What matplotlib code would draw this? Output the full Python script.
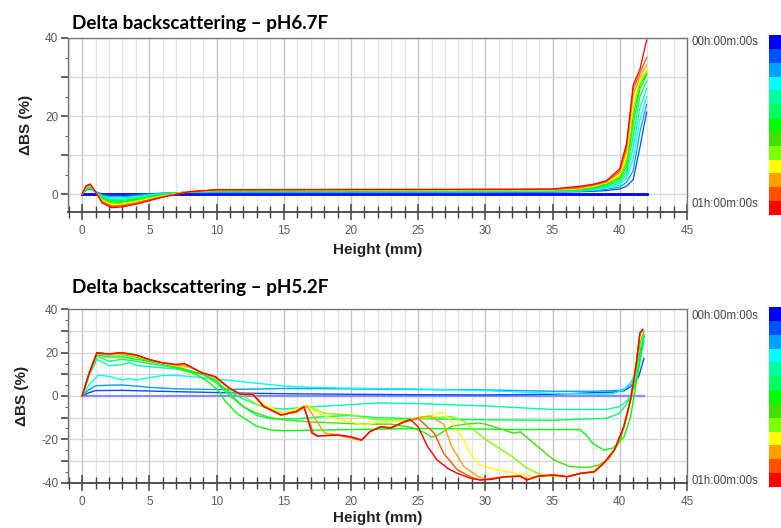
import numpy as np
import matplotlib
matplotlib.use("Agg")
import matplotlib.pyplot as plt
from matplotlib.ticker import MultipleLocator, FuncFormatter
from matplotlib.colors import ListedColormap

# colour for each scan, 00h:00m:00s -> 01h:00m:00s
scan_colors = ['#0000ff', '#0050ff', '#00a0ff', '#00ffff', '#00ffa0', '#00ff60', '#00ff00',
               '#40e000', '#80ff00', '#ffff00', '#ffa000', '#ff5000', '#ff0000']

time_start = '00h:00m:00s'
time_end = '01h:00m:00s'
title_top = 'Delta backscattering – pH6.7F'
title_bot = 'Delta backscattering – pH5.2F'

# ---- pH6.7F ----
top_x = [0, 0.3, 0.6, 1.0, 1.5, 2.2, 3.0, 4.0, 5.0, 6.0, 7.0, 8.0, 10, 20, 30, 35, 37, 38, 39, 40, 40.5, 41, 41.5, 42]
top_first_x = [0, 42]
top_first_y = [0, 0]
top_1 = [0, 1.0, 1.3, 0.6, 0.0, -0.3, -0.3, -0.1, 0.1, 0.2, 0.3, 0.4, 0.4, 0.4, 0.4, 0.5, 0.6, 0.7, 0.9, 1.3, 2.0, 3.7, 12, 21]
top_2 = [0, 1.1, 1.5, 0.6, -0.3, -0.7, -0.7, -0.4, 0.0, 0.2, 0.3, 0.5, 0.5, 0.5, 0.5, 0.6, 0.7, 0.9, 1.2, 1.8, 3.0, 6.0, 16, 23]
top_3 = [0, 1.2, 1.6, 0.6, -0.5, -1.1, -1.0, -0.7, -0.2, 0.1, 0.3, 0.5, 0.6, 0.6, 0.6, 0.7, 0.8, 1.0, 1.5, 2.3, 4.0, 9.0, 19, 25]
top_4 = [0, 1.3, 1.7, 0.6, -0.7, -1.4, -1.3, -0.9, -0.4, 0.0, 0.3, 0.6, 0.7, 0.7, 0.7, 0.8, 0.9, 1.2, 1.8, 2.8, 5.0, 12, 22, 27]
top_5 = [0, 1.4, 1.8, 0.6, -0.9, -1.7, -1.6, -1.2, -0.6, -0.1, 0.3, 0.6, 0.8, 0.8, 0.8, 0.9, 1.0, 1.4, 2.1, 3.3, 6.0, 15, 25, 29]
top_6 = [0, 1.5, 1.9, 0.6, -1.1, -2.0, -1.9, -1.4, -0.8, -0.2, 0.2, 0.6, 0.8, 0.9, 0.9, 1.0, 1.1, 1.6, 2.4, 3.8, 7.0, 18, 27, 30.5]
top_7 = [0, 1.6, 2.0, 0.6, -1.3, -2.3, -2.1, -1.6, -0.9, -0.3, 0.2, 0.6, 0.9, 0.9, 1.0, 1.0, 1.2, 1.8, 2.6, 4.2, 8.0, 20, 28, 31]
top_8 = [0, 1.7, 2.1, 0.6, -1.5, -2.5, -2.4, -1.8, -1.0, -0.4, 0.1, 0.6, 0.9, 1.0, 1.0, 1.1, 1.3, 1.9, 2.8, 4.6, 9.0, 22, 29, 31.5]
top_9 = [0, 1.8, 2.2, 0.6, -1.7, -2.8, -2.6, -2.0, -1.2, -0.5, 0.1, 0.6, 1.0, 1.0, 1.1, 1.1, 1.4, 2.0, 3.0, 5.0, 10, 24, 29.5, 32]
top_10 = [0, 1.9, 2.3, 0.6, -1.9, -3.0, -2.8, -2.2, -1.4, -0.6, 0.0, 0.6, 1.0, 1.1, 1.1, 1.2, 1.5, 2.1, 3.1, 5.5, 11, 25.5, 30, 33]
top_11 = [0, 2.0, 2.4, 0.6, -2.1, -3.2, -3.0, -2.4, -1.5, -0.7, 0.0, 0.6, 1.1, 1.1, 1.2, 1.2, 1.7, 2.3, 3.2, 6.0, 12, 27, 31, 35]
top_12 = [0, 2.1, 2.6, 0.6, -2.3, -3.5, -3.3, -2.6, -1.7, -0.8, -0.1, 0.6, 1.1, 1.2, 1.2, 1.3, 2.0, 2.5, 3.4, 6.5, 13, 28, 32, 39.5]

# ---- pH5.2F ----
bot_0x = [0, 41.8]
bot_0y = [0, 0]
bot_1x = [0, 0.5, 1, 3, 5, 7, 10, 13, 16, 20, 25, 30, 35, 38, 39.5, 40.3, 40.8, 41.4, 41.8]
bot_1y = [0, 1.5, 2.5, 2.6, 2.3, 2.0, 1.6, 1.2, 1.0, 0.8, 0.6, 0.5, 0.8, 1.5, 1.8, 2.4, 4.3, 8.9, 17.4]
bot_2x = [0, 0.5, 1, 2, 3, 4, 5, 7, 10, 13, 15, 20, 25, 30, 35, 38, 40, 40.5, 41, 41.3, 41.6]
bot_2y = [0, 3, 4.7, 5.0, 5.1, 4.6, 4.0, 3.3, 3.0, 3.2, 3.5, 3.3, 3.0, 2.8, 2.2, 2.2, 2.6, 3.6, 7.4, 13, 22.8]
bot_3x = [0, 0.5, 1.2, 2, 3, 3.5, 4, 5, 6, 7, 8, 10, 11, 13, 15, 17, 20, 25, 30, 35, 38, 39.5, 40.3, 40.8, 41.2, 41.5, 41.8]
bot_3y = [0, 5, 9.7, 9.0, 7.4, 8.1, 7.4, 8.5, 9.5, 9.5, 9.0, 7.8, 7.2, 5.9, 4.6, 4.0, 3.6, 3.2, 2.5, 1.2, 0.8, 1.0, 3, 6, 11, 18, 25]
bot_4x = [0, 0.5, 1.1, 2, 3, 3.5, 4, 5, 7, 9, 10, 11, 12, 13, 14, 15, 17, 20, 22, 25, 30, 35, 39, 40, 40.6, 41.1, 41.4, 41.7]
bot_4y = [0, 9, 17, 14, 14.5, 15.5, 14.2, 13.5, 12.5, 10, 6, 2, -1.5, -4, -5.5, -6, -5, -4, -3.2, -3.5, -4.6, -6.2, -6.2, -4.9, -1.8, 4.3, 13, 26]
bot_5x = [0, 0.5, 1.1, 2, 3, 4, 5, 7, 9, 10, 10.5, 11, 12, 13, 14, 16, 18, 20, 22, 25, 30, 35, 39, 40, 40.7, 41.3, 41.8]
bot_5y = [0, 9.5, 18.5, 16, 17, 16, 15, 13, 10, 6, 3, 0, -5, -9, -10.5, -10.5, -9.5, -9, -10, -10.5, -11, -11.2, -10.3, -8, -1.8, 9, 27.5]
bot_6x = [0, 0.5, 1.1, 2, 3, 4, 5.5, 7, 8.5, 9.5, 10.2, 10.6, 11.5, 13, 14, 15, 20, 25, 29, 32, 37, 37.5, 38, 38.8, 39.5, 40.3, 40.8, 41.3, 41.8]
bot_6y = [0, 10, 19, 18, 18, 17, 15.5, 13, 10, 6, 2, -2, -8, -14, -15.7, -16, -15.5, -15, -15.2, -15.5, -15.5, -18, -22, -25, -24, -19, -9.6, 9, 28]
bot_7x = [0, 0.5, 1.1, 2, 3, 4, 5, 7, 9, 10, 11, 12, 13, 14, 15, 17, 19, 21, 23, 24.5, 25.5, 26, 26.5, 27.5, 28.5, 29.5, 30,
          31.4, 32.1, 32.6, 33.9, 35.1, 36.3, 37.6, 38.4, 39.2, 40, 40.5, 41, 41.5, 41.8]
bot_7y = [0, 10, 19.5, 19, 19, 18, 16, 13.5, 10, 7, 1, -5, -8, -10, -11, -12, -12.5, -13, -13, -14.5, -17, -19, -18, -14, -13, -12.5, -13,
          -15.7, -17.2, -16.5, -23.4, -29.6, -32.6, -33, -32, -29, -21, -10, 4, 24, 30]
bot_8x = [0, 0.5, 1.1, 2, 3, 4, 5, 6, 7, 8, 9, 10, 11, 12, 13, 14, 15, 16, 16.7, 18, 20, 21, 22, 24, 25, 26, 27.5, 28.5, 29, 30,
          31, 32, 33, 34, 35, 36, 37, 38, 38.8, 39.6, 40.3, 40.8, 41.2, 41.5, 41.7]
bot_8y = [0, 10, 19.8, 19.2, 19.5, 18.5, 16.5, 15, 13.8, 13.2, 10.5, 8, 3, 0, -4, -6, -8, -7, -4.5, -8, -8.8, -10, -11, -11, -10.5, -10, -9.5, -12, -15, -20,
          -24, -28, -33, -36, -37, -37.3, -35.8, -35, -31, -24.8, -14, -1.5, 13.8, 29, 30.2]
bot_9x = [0, 0.5, 1.1, 2, 3, 4, 5, 6, 7, 8, 9, 10, 11, 11.8, 12.7, 13.5, 15, 16.7, 17.5, 18.5, 20, 21, 22, 24, 25, 26, 26.8, 27.5,
          28.4, 28.9, 29.6, 30.4, 32.1, 33.1, 34, 35, 36, 37, 38, 38.8, 39.6, 40.3, 40.8, 41.2, 41.5, 41.7]
bot_9y = [0, 10, 20, 19.3, 19.7, 18.7, 16.8, 15.2, 14, 13.5, 10.6, 8.6, 3.2, 0.8, 1, -4, -8, -4.2, -8, -10, -12, -13.5, -12, -11.5, -10, -9, -7.5, -12,
          -20.4, -27, -31.8, -33.4, -35.7, -37, -37.2, -36.6, -37.2, -35.8, -35, -31.1, -24.9, -14.2, -1.8, 13.6, 29, 30.5]
bot_10x = [0, 0.5, 1.1, 2, 3, 4, 5, 6, 7, 8, 9, 10, 11, 11.8, 12.7, 13.5, 14.8, 16, 16.7, 17.5, 18, 19, 20, 20.8, 21.4, 22.2, 23, 24, 25,
           25.9, 26.9, 27.5, 28.4, 29.4, 30, 31.4, 32.6, 33.1, 33.9, 35.1, 36.1, 37.1, 38.1, 38.8, 39.6, 40.3, 40.8, 41.2, 41.5, 41.7]
bot_10y = [0, 10, 20, 19.4, 19.8, 18.8, 16.9, 15.3, 14.2, 13.6, 10.7, 8.7, 3.3, 0.8, 1.1, -4.5, -8.6, -7.5, -4.5, -12, -17, -18, -19.5, -20.5, -16.5, -14.2, -14.5, -12, -10,
           -9.2, -13, -23.4, -32.6, -37, -38.5, -37.5, -37.2, -38.6, -37.2, -36.6, -37.3, -35.8, -35, -31.1, -24.9, -14.2, -1.8, 13.6, 29, 30.7]
bot_11x = [0, 0.5, 1.1, 2, 3, 4, 5, 6, 7, 7.6, 8.9, 9.9, 11, 11.8, 12.7, 13.5, 14.8, 15.9, 16.5, 17.2, 17.5, 19, 20, 20.8, 21.4, 22.2, 23, 24, 25,
           26.2, 26.9, 27.9, 28.9, 29.6, 31.4, 32.6, 33.1, 33.9, 35.1, 36.1, 37.1, 38.1, 38.8, 39.6, 40.3, 40.8, 41.2, 41.5, 41.7]
bot_11y = [0, 10, 20, 19.4, 20, 19, 16.8, 15.3, 14.5, 15, 10.7, 8.9, 3.4, 0.8, 0.9, -4.8, -8.8, -7.2, -5, -17, -18.5, -18, -19, -20.5, -16.5, -14.2, -14.8, -12, -10.3,
           -17.2, -26.5, -34, -37.4, -38.8, -37.3, -37, -38.8, -37, -36.5, -37.3, -35.7, -35, -31.1, -24.9, -14.2, -1.8, 13.6, 29, 30.5]
bot_12x = [0, 0.5, 1.1, 1.9, 2.85, 4, 5, 6, 7.1, 7.6, 8.9, 9.9, 11, 11.8, 12.7, 13.5, 14.8, 15.9, 16.5, 17.1, 17.5, 19, 20, 20.8, 21.4, 22.2,
           22.9, 23.9, 24.4, 25, 25.7, 26.4, 27.2, 27.9, 28.9, 29.6, 30.5, 31.4, 32.6, 33.1, 33.9, 35.1, 36.1, 37.1, 38.1, 38.8, 39.6, 40.3,
           40.8, 41.2, 41.5, 41.7]
bot_12y = [0, 10, 20, 19.4, 20, 19, 16.8, 15.3, 14.5, 15, 10.7, 8.9, 3.4, 0.8, 0.8, -4.9, -8.8, -7.2, -4.9, -17.2, -18.5, -18, -18.8, -20.3, -16.5, -14.2,
           -14.9, -12, -10.8, -14.2, -23.4, -29.5, -33.4, -35.7, -38, -38.8, -38.5, -37.3, -37, -38.8, -37, -36.5, -37.3, -35.7, -35, -31.1, -24.9, -14.2,
           -1.8, 13.6, 29, 30.7]

top_curves = [top_1, top_2, top_3, top_4, top_5, top_6, top_7, top_8, top_9, top_10, top_11, top_12]
bot_curves = [(bot_1x, bot_1y), (bot_2x, bot_2y), (bot_3x, bot_3y), (bot_4x, bot_4y), (bot_5x, bot_5y), (bot_6x, bot_6y),
              (bot_7x, bot_7y), (bot_8x, bot_8y), (bot_9x, bot_9y), (bot_10x, bot_10y), (bot_11x, bot_11y), (bot_12x, bot_12y)]

W, H = 781, 528
fig = plt.figure(figsize=(W / 100, H / 100), dpi=100)

tick_font = dict(family='Liberation Sans', size=8.5, color='#5a5a5a')


def style_axes(ax, ylo, yhi, xpad):
    ax.set_xlim(-1.05, 45)
    ax.set_ylim(ylo, yhi)
    ax.xaxis.set_major_locator(MultipleLocator(5))
    ax.xaxis.set_minor_locator(MultipleLocator(1))
    ax.yaxis.set_major_locator(MultipleLocator(10))
    ax.yaxis.set_minor_locator(MultipleLocator(5))
    ax.yaxis.set_major_formatter(FuncFormatter(lambda v, p: '%d' % v if int(round(v)) % 20 == 0 else ''))
    ax.grid(which='major', axis='x', color='#c4c4c4', lw=1.0)
    ax.grid(which='minor', axis='x', color='#e2e2e2', lw=0.9)
    ax.grid(which='major', axis='y', color='#d8d8d8', lw=1.0)
    ax.set_axisbelow(True)
    for s in ax.spines.values():
        s.set_color('#777777')
        s.set_linewidth(1.0)
    ax.spines['bottom'].set_color('#444444')
    ax.spines['bottom'].set_linewidth(1.3)
    ax.tick_params(axis='x', which='major', direction='inout', length=11, width=1.1, color='#444444', pad=4)
    ax.tick_params(axis='x', which='minor', direction='inout', length=8, width=1.0, color='#444444')
    ax.tick_params(axis='y', which='major', direction='out', length=5, width=1.3, color='#555555', pad=2)
    ax.tick_params(axis='y', which='minor', direction='out', length=2.5, width=0.8, color='#666666')
    for lab in ax.get_xticklabels() + ax.get_yticklabels():
        lab.set_fontfamily(tick_font['family'])
        lab.set_fontsize(tick_font['size'])
        lab.set_color(tick_font['color'])
    ax.set_xlabel('Height (mm)', fontsize=11, fontweight='bold', family='Liberation Sans', color='#222222', labelpad=xpad)
    ax.set_ylabel('ΔBS (%)', fontsize=11, fontweight='bold', family='Liberation Sans', color='#222222', labelpad=9)


def add_colorbar(y_top, y_bot):
    cax = fig.add_axes([769 / W, 1 - y_bot / H, 0.025, (y_bot - y_top) / H])
    cax.imshow(np.arange(len(scan_colors)).reshape(-1, 1), cmap=ListedColormap(scan_colors), aspect='auto')
    cax.axis('off')


# top panel
ax1 = fig.add_axes([68 / W, 1 - 212 / H, 619 / W, 174 / H])
ax1.plot(top_first_x, top_first_y, color=scan_colors[0], lw=2.0)
for ys, c in zip(top_curves, scan_colors[1:]):
    ax1.plot(top_x, ys, color=c, lw=0.9)
style_axes(ax1, -4.6, 40, 4)
fig.text(72 / W, 1 - 23 / H, title_top, fontsize=13.6, fontweight='bold', family='Lato', va='center', ha='left')
add_colorbar(35, 215)
fig.text(692 / W, 1 - 42 / H, time_start, fontsize=8.3, color='#444444', family='Liberation Sans', va='center')
fig.text(692 / W, 1 - 204 / H, time_end, fontsize=8.3, color='#444444', family='Liberation Sans', va='center')

# bottom panel
ax2 = fig.add_axes([68 / W, 1 - 482.6 / H, 619 / W, 173.2 / H])
ax2.plot(bot_0x, bot_0y, color='#8a8aff', lw=1.6)
for (xs, ys), c in zip(bot_curves, scan_colors[1:]):
    ax2.plot(xs, ys, color=c, lw=1.0)
style_axes(ax2, -40, 40, 2)
fig.text(72 / W, 1 - 288 / H, title_bot, fontsize=13.6, fontweight='bold', family='Lato', va='center', ha='left')
add_colorbar(307, 487)
fig.text(692 / W, 1 - 316 / H, time_start, fontsize=8.3, color='#444444', family='Liberation Sans', va='center')
fig.text(692 / W, 1 - 481 / H, time_end, fontsize=8.3, color='#444444', family='Liberation Sans', va='center')

fig.savefig('out.png', dpi=100)
